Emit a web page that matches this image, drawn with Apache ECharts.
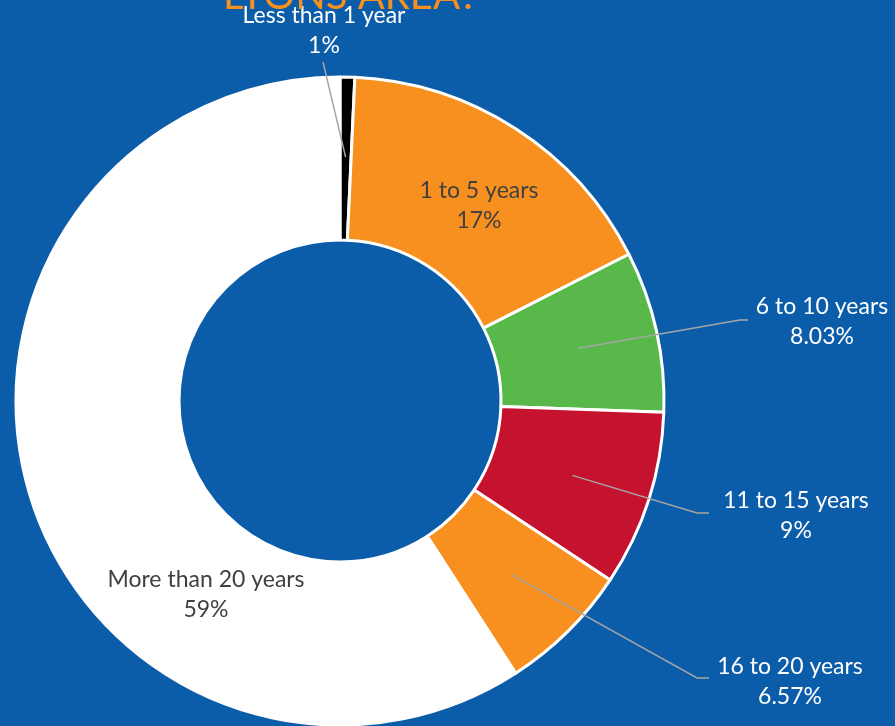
<!DOCTYPE html>
<html>
<head>
<meta charset="utf-8">
<script src="https://cdn.jsdelivr.net/npm/echarts@6/dist/echarts.min.js"></script>
<style>
  html, body { margin: 0; padding: 0; background: #0C5DA9; }
  #chart { width: 895px; height: 726px; }
</style>
</head>
<body>
<div id="chart"></div>
<script>
// ---- data ----
const categories = ['Less than 1 year', '1 to 5 years', '6 to 10 years', '11 to 15 years', '16 to 20 years', 'More than 20 years'];
const values = [0.73, 16.79, 8.03, 8.76, 6.57, 59.12];
const percentLabels = ['1%', '17%', '8.03%', '9%', '6.57%', '59%'];
const sliceColors = ['#000000', '#F7901E', '#58B84A', '#C4122F', '#F7901E', '#FFFFFF'];
const titleText = 'LYONS AREA?';

// label placement (layout only)
const insideLabelPos = { 1: [479, 206], 5: [206, 595] };
const outsideLabelPos = {
  0: { x: 324, y: 31, line: [[323, 62]] },
  2: { x: 822, y: 322, line: [[740, 320], [748, 320]] },
  3: { x: 796, y: 516, line: [[697, 513], [709, 513]] },
  4: { x: 790, y: 682, line: [[697, 678], [709, 678]] }
};

const center = [340, 401];
const chart = echarts.init(document.getElementById('chart'), null, { renderer: 'canvas' });

const mainData = categories.map((c, i) => ({
  name: c,
  value: values[i],
  itemStyle: { color: sliceColors[i] },
  label: { show: insideLabelPos[i] !== undefined }
}));
const guideData = categories.map((c, i) => ({
  name: c,
  value: values[i],
  label: { show: outsideLabelPos[i] !== undefined },
  labelLine: { show: outsideLabelPos[i] !== undefined }
}));

const fmt = p => categories[p.dataIndex] + '\n' + percentLabels[p.dataIndex];

chart.setOption({
  backgroundColor: '#0C5DA9',
  animation: false,
  title: {
    text: titleText,
    left: 218,
    top: -29,
    textStyle: { color: '#F7901E', fontSize: 40, fontWeight: 'normal', fontFamily: 'Lato' }
  },
  series: [
    {
      type: 'pie',
      center: center,
      radius: [161, 324],
      startAngle: 90,
      clockwise: true,
      avoidLabelOverlap: false,
      silent: true,
      itemStyle: { borderColor: '#FFFFFF', borderWidth: 3 },
      label: {
        position: 'inside',
        formatter: fmt,
        color: '#404040',
        fontSize: 23,
        lineHeight: 30,
        fontFamily: 'Lato',
        align: 'center'
      },
      labelLine: { show: false },
      labelLayout: function (p) {
        const pos = insideLabelPos[p.dataIndex];
        if (!pos) return {};
        return { x: pos[0], y: pos[1], align: 'center', verticalAlign: 'middle' };
      },
      data: mainData
    },
    {
      type: 'pie',
      center: center,
      radius: [0, 244],
      startAngle: 90,
      clockwise: true,
      avoidLabelOverlap: false,
      silent: true,
      z: 3,
      itemStyle: { color: 'rgba(0,0,0,0)', borderWidth: 0 },
      label: {
        position: 'outside',
        formatter: fmt,
        color: '#FFFFFF',
        fontSize: 23,
        lineHeight: 30,
        fontFamily: 'Lato',
        align: 'center'
      },
      labelLine: {
        show: true,
        length: 20,
        length2: 10,
        lineStyle: { color: '#A6A6A6', width: 1.5 }
      },
      labelLayout: function (p) {
        const cfg = outsideLabelPos[p.dataIndex];
        if (!cfg) return {};
        const out = { x: cfg.x, y: cfg.y, align: 'center', verticalAlign: 'middle' };
        if (p.labelLinePoints && p.labelLinePoints.length) {
          out.labelLinePoints = [p.labelLinePoints[0]].concat(cfg.line);
        }
        return out;
      },
      data: guideData
    }
  ]
});
</script>
</body>
</html>
